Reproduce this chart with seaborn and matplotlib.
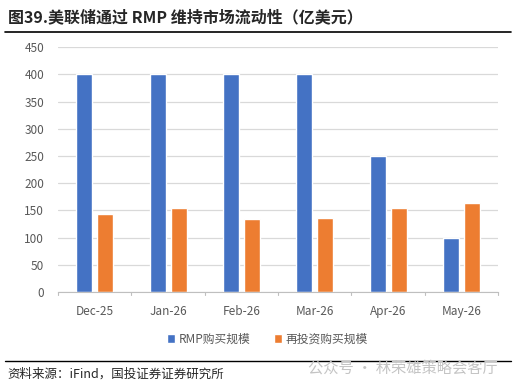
import pandas as pd
import matplotlib.pyplot as plt
import seaborn as sns
from matplotlib.lines import Line2D
from matplotlib.patches import Patch

months = ["Dec-25", "Jan-26", "Feb-26", "Mar-26", "Apr-26", "May-26"]
rmp = [400, 400, 400, 400, 250, 100]
reinvest = [143, 154, 134, 137, 155, 163]
series_names = ["RMP购买规模", "再投资购买规模"]
colors = ["#4472C4", "#ED7D31"]

df = pd.DataFrame({
    "month": months * 2,
    "value": rmp + reinvest,
    "series": [series_names[0]] * len(months) + [series_names[1]] * len(months),
})

sns.set_style("white")
plt.rcParams['font.family'] = ['Noto Sans CJK SC', 'DejaVu Sans']

fig = plt.figure(figsize=(5.14, 3.89), dpi=100)
ax = fig.add_axes([0.113, 0.249, 0.856, 0.630])

sns.barplot(data=df, x="month", y="value", hue="series", palette=colors,
            width=0.573, gap=0.24, ax=ax, legend=False, saturation=1)

ax.set_ylim(0, 450)
ax.set_yticks(range(0, 451, 50))
ax.set_xlim(-0.5, len(months) - 0.5)
ax.yaxis.grid(True, color="#D9D9D9", linewidth=0.9)
ax.set_axisbelow(True)
for s in ["top", "right", "left"]:
    ax.spines[s].set_visible(False)
ax.spines["bottom"].set_color("#BFBFBF")
ax.set_xlabel("")
ax.set_ylabel("")
ax.tick_params(axis="y", length=0, labelsize=8.5, labelcolor="#595959", pad=10)
ax.tick_params(axis="x", length=0, labelsize=8.5, labelcolor="#595959", pad=9)
# small tick marks between categories
for b in range(len(months) + 1):
    ax.plot([b - 0.5, b - 0.5], [0, -6], color="#BFBFBF", lw=0.8, clip_on=False)

handles = [Patch(facecolor=c, label=n) for c, n in zip(colors, series_names)]
fig.legend(handles=handles, loc="center", bbox_to_anchor=(0.52, 0.128), ncol=2,
           frameon=False, fontsize=8.5, handlelength=0.7, handleheight=0.7,
           handletextpad=0.3, columnspacing=2.0, labelcolor="#595959")

# title and rules
fig.text(0.015, 0.955, "图39.美联储通过 RMP 维持市场流动性（亿美元）", fontsize=11.5,
         fontweight="bold", va="center", ha="left")
fig.add_artist(Line2D([0.01, 0.995], [0.918, 0.918], color="black", lw=1.2))
fig.add_artist(Line2D([0.01, 0.995], [0.072, 0.072], color="black", lw=1.0))
fig.text(0.015, 0.038, "资料来源：iFind，国投证券证券研究所", fontsize=9,
         style="italic", va="center", ha="left")
fig.text(0.968, 0.054, "公众号 · 林荣雄策略会客厅", fontsize=11, color="#C4C4C4",
         va="center", ha="right")

fig.savefig("out.png", dpi=100)
